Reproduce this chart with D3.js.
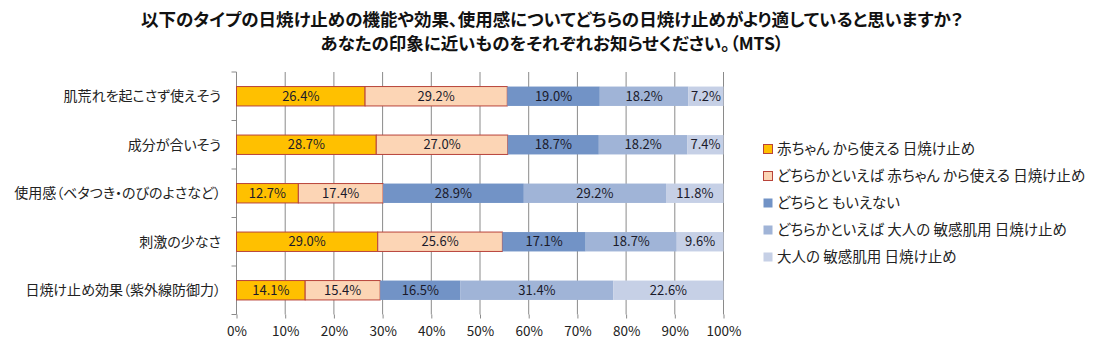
<!DOCTYPE html>
<html>
<head>
<meta charset="utf-8">
<script src="https://cdn.jsdelivr.net/npm/d3@7"></script>
<style>
  body { margin: 0; background: #fff; }
  svg { font-family: "Noto Sans CJK JP", "Noto Sans", sans-serif; }
  .jp { font-feature-settings: "palt"; }
</style>
</head>
<body>
<svg id="chart"></svg>
<script>
const titleLines = [
  '以下のタイプの日焼け止めの機能や効果、使用感についてどちらの日焼け止めがより適していると思いますか？',
  'あなたの印象に近いものをそれぞれお知らせください。（MTS）'
];

const categories = [
  '肌荒れを起こさず使えそう',
  '成分が合いそう',
  '使用感（ベタつき・のびのよさなど）',
  '刺激の少なさ',
  '日焼け止め効果（紫外線防御力）'
];

const seriesNames = [
  '赤ちゃん から使える 日焼け止め',
  'どちらかといえば 赤ちゃん から使える 日焼け止め',
  'どちらと もいえない',
  'どちらかといえば 大人の 敏感肌用 日焼け止め',
  '大人の 敏感肌用 日焼け止め'
];

const babyValues = [26.4, 28.7, 12.7, 29.0, 14.1];
const leanBabyValues = [29.2, 27.0, 17.4, 25.6, 15.4];
const neitherValues = [19.0, 18.7, 28.9, 17.1, 16.5];
const leanAdultValues = [18.2, 18.2, 29.2, 18.7, 31.4];
const adultValues = [7.2, 7.4, 11.8, 9.6, 22.6];

const xTicks = [0, 10, 20, 30, 40, 50, 60, 70, 80, 90, 100];

const seriesValues = [babyValues, leanBabyValues, neitherValues, leanAdultValues, adultValues];
const fills = ['#FFC000', '#FCD5B5', '#7293C6', '#A0B4D7', '#C6D0E6'];
const strokes = ['#B8433A', '#B8433A', 'none', 'none', 'none'];

const width = 1102, height = 350;
const svg = d3.select('#chart')
  .attr('width', width)
  .attr('height', height);

// title
svg.selectAll('.title')
  .data(titleLines)
  .enter()
  .append('text')
  .attr('class', 'jp')
  .attr('x', 552)
  .attr('y', (d, i) => 26 + i * 24)
  .attr('text-anchor', 'middle')
  .style('font-size', '17.5px')
  .style('font-weight', 'bold')
  .attr('fill', '#111')
  .text(d => d);

const x = d3.scaleLinear()
  .domain([0, 100])
  .range([236.5, 723.5]);

const y = d3.scaleBand()
  .domain(categories)
  .range([72, 314.5])
  .paddingInner(0.6)
  .paddingOuter(0.3);

// gridlines
svg.append('g')
  .selectAll('line')
  .data(xTicks.slice(1))
  .enter()
  .append('line')
  .attr('x1', d => x(d))
  .attr('x2', d => x(d))
  .attr('y1', 72)
  .attr('y2', 314.5)
  .attr('stroke', '#8a8a8a')
  .attr('stroke-width', 1);

// bottom axis (ticks + labels only)
const xAxis = svg.append('g')
  .attr('transform', 'translate(0, 314.5)')
  .call(d3.axisBottom(x).tickValues(xTicks).tickFormat(d => d + '%').tickSize(4).tickPadding(8));
xAxis.select('.domain').remove();
xAxis.selectAll('line').attr('stroke', '#8a8a8a');
xAxis.selectAll('text')
  .style('font-family', '"Noto Sans CJK JP", sans-serif')
  .style('font-size', '13.5px')
  .attr('fill', '#222');

// left axis line and category separators
svg.append('line')
  .attr('x1', x(0)).attr('x2', x(0))
  .attr('y1', 72).attr('y2', 314.5)
  .attr('stroke', '#8a8a8a');

const bounds = d3.range(categories.length + 1).map(i => 72 + i * y.step());
svg.append('g')
  .selectAll('line')
  .data(bounds)
  .enter()
  .append('line')
  .attr('x1', x(0) - 5)
  .attr('x2', x(0))
  .attr('y1', d => d)
  .attr('y2', d => d)
  .attr('stroke', '#8a8a8a');

// category labels
svg.append('g')
  .selectAll('text')
  .data(categories)
  .enter()
  .append('text')
  .attr('class', 'jp')
  .attr('x', 221)
  .attr('y', d => y(d) + y.bandwidth() / 2)
  .attr('dy', '0.35em')
  .attr('text-anchor', 'end')
  .style('font-size', '14px')
  .attr('fill', '#222')
  .text(d => d);

// stacked bars
const rows = categories.map((c, i) => {
  let acc = 0;
  return seriesValues.map((vals, s) => {
    const seg = { cat: c, s: s, v: vals[i], x0: acc, x1: acc + vals[i] };
    acc += vals[i];
    return seg;
  });
}).flat();

svg.append('g')
  .selectAll('rect')
  .data(rows)
  .enter()
  .append('rect')
  .attr('x', d => x(d.x0))
  .attr('y', d => y(d.cat))
  .attr('width', d => x(d.x1) - x(d.x0))
  .attr('height', y.bandwidth())
  .attr('fill', d => fills[d.s])
  .attr('stroke', d => strokes[d.s])
  .attr('stroke-width', 1);

svg.append('g')
  .selectAll('text')
  .data(rows)
  .enter()
  .append('text')
  .attr('x', d => x((d.x0 + d.x1) / 2))
  .attr('y', d => y(d.cat) + y.bandwidth() / 2)
  .attr('dy', '0.35em')
  .attr('text-anchor', 'middle')
  .style('font-size', '13px')
  .attr('fill', '#1a1a2a')
  .text(d => d.v.toFixed(1) + '%');

// legend
const legend = svg.append('g')
  .selectAll('g')
  .data(seriesNames)
  .enter()
  .append('g')
  .attr('transform', (d, i) => `translate(763, ${149 + i * 27})`);

legend.append('rect')
  .attr('x', 0.5)
  .attr('y', -4.5)
  .attr('width', 9)
  .attr('height', 9)
  .attr('fill', (d, i) => fills[i])
  .attr('stroke', (d, i) => strokes[i]);

legend.append('text')
  .attr('class', 'jp')
  .attr('x', 14)
  .attr('y', 0)
  .attr('dy', '0.35em')
  .style('font-size', '14.5px')
  .attr('fill', '#222')
  .text(d => d);
</script>
</body>
</html>
